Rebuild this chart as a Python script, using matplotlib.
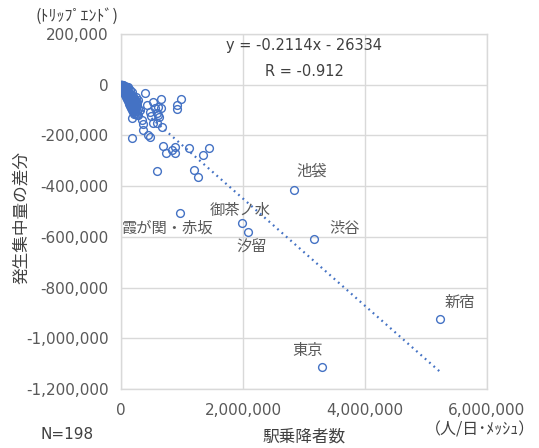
import numpy as np
import matplotlib
matplotlib.use("Agg")
import matplotlib.pyplot as plt
from matplotlib.ticker import FuncFormatter, MultipleLocator

plt.rcParams['font.family'] = ['DejaVu Sans', 'Noto Sans CJK JP']
JP = ['Noto Sans CJK JP', 'DejaVu Sans']

# 駅名付きの点 (単位: 千)
station_names = ['新宿', '東京', '池袋', '渋谷', '御茶ノ水', '汐留', '霞が関・赤坂']
station_x = [5230, 3295, 2836, 3164, 1980, 2080, 967]
station_y = [-923, -1113, -416, -610, -547, -582, -507]
# ラベルのずらし (pt)
label_offsets = [(14, 12), (-10, 12), (13, 14), (22, 8), (-1, 9), (3, -11), (-9, -11)]

# その他の点 (単位: 千)
outer_x = [393, 524, 656, 990, 918, 918, 606, 475, 590, 492, 344, 360, 623, 590,
           672, 360, 443, 180, 180, 475, 279, 311, 557, 656, 606, 524, 688, 738,
           836, 885, 885, 1115, 1344, 1443, 590, 1197, 1262, 245, 420]
outer_y = [-32, -67, -55, -57, -79, -95, -87, -107, -111, -123, -139, -154, -127, -150,
           -166, -178, -198, -131, -210, -206, -119, -99, -92, -92, -119, -152, -241, -269,
           -257, -269, -245, -250, -277, -249, -341, -337, -364, -90, -80]

cluster = [(2, -1), (4, -2), (5, -1), (6, -3), (8, -2), (9, -4), (10, -3), (12, -5), (13, -2),
           (14, -6), (15, -4), (17, -7), (18, -3), (19, -8), (20, -5), (22, -9), (23, -6), (24, -4),
           (25, -10), (27, -7), (28, -12), (29, -5), (30, -9), (32, -14), (33, -8), (34, -11),
           (35, -6), (37, -15), (38, -10), (39, -13), (40, -7), (42, -17), (43, -12), (44, -9),
           (45, -19), (47, -14), (48, -11), (49, -21), (50, -8), (52, -16), (53, -23), (54, -13),
           (56, -10), (57, -19), (58, -25), (60, -15), (61, -12), (62, -22), (64, -27), (65, -17),
           (66, -13), (68, -24), (69, -30), (70, -19), (72, -15), (73, -27), (74, -32), (76, -21),
           (77, -17), (78, -29), (80, -35), (81, -24), (83, -18), (84, -31), (86, -38), (87, -26),
           (88, -20), (90, -34), (92, -41), (93, -28), (95, -23), (96, -37), (98, -44), (100, -30),
           (102, -25), (103, -40), (105, -47), (107, -33), (108, -27), (110, -43), (112, -50),
           (114, -36), (115, -30), (117, -46), (119, -54), (121, -39), (123, -32), (125, -49),
           (127, -57), (129, -42), (131, -35), (133, -52), (135, -61), (137, -45), (139, -38),
           (141, -56), (143, -64), (146, -48), (148, -41), (150, -59), (152, -68), (155, -52),
           (157, -44), (160, -63), (162, -72), (165, -55), (168, -47), (170, -67), (173, -76),
           (176, -59), (179, -50), (182, -71), (185, -80), (188, -63), (191, -54), (195, -75),
           (198, -85), (202, -67), (206, -58), (210, -80), (214, -90), (218, -71), (223, -62),
           (228, -85), (233, -96), (238, -75), (244, -66), (250, -90), (256, -102), (262, -80),
           (270, -70), (278, -95), (286, -60), (210, -105), (190, -95), (170, -88), (150, -78),
           (230, -110), (250, -115), (130, -70), (110, -60), (95, -52), (80, -45), (265, -120),
           (240, -50), (200, -45), (160, -35), (120, -25), (60, -5), (40, -2), (20, 0), (10, 0),
           (1, 0), (60, -30), (70, -40), (85, -50), (100, -58), (115, -65), (130, -75),
           (145, -85), (160, -92), (175, -100), (190, -108), (205, -115), (120, -10), (140, -20),
           (180, -30), (100, -8), (90, -12), (50, -28), (40, -22), (30, -18), (20, -12)]

SLOPE = -0.2114
INTERCEPT = -26334
R_VALUE = -0.912
N = 198

all_x = np.array(station_x + outer_x + [c[0] for c in cluster]) * 1000
all_y = np.array(station_y + outer_y + [c[1] for c in cluster]) * 1000

blue = '#4472C4'
grid_c = '#D9D9D9'
txt_c = '#595959'

fig = plt.figure(figsize=(5.39, 4.48), dpi=100)
ax = fig.add_axes([0.2245, 0.1317, 0.679, 0.7924])

ax.plot(all_x, all_y, 'o', ms=5.6, mfc='none', mec=blue, mew=1.0, zorder=3)

tx = np.array([all_x.min(), all_x.max()])
ax.plot(tx, SLOPE * tx + INTERCEPT, color=blue, lw=1.6, linestyle=(0, (0.8, 1.8)), zorder=4)

ax.set_xlim(0, 6000000)
ax.set_ylim(-1200000, 200000)
ax.xaxis.set_major_locator(MultipleLocator(2000000))
ax.yaxis.set_major_locator(MultipleLocator(200000))
fmt = FuncFormatter(lambda v, p: f"{int(round(v)):,}")
ax.xaxis.set_major_formatter(fmt)
ax.yaxis.set_major_formatter(fmt)
ax.grid(True, color=grid_c, lw=1.0)
ax.set_axisbelow(True)
for s in ax.spines.values():
    s.set_color(grid_c)
    s.set_linewidth(1.0)
ax.tick_params(length=0, labelsize=11, labelcolor=txt_c)
ax.tick_params(axis='y', pad=9)
ax.tick_params(axis='x', pad=10)

for name, x, y, off in zip(station_names, station_x, station_y, label_offsets):
    ax.annotate(name, (x * 1000, y * 1000), xytext=off, textcoords='offset points',
                ha='center', va='center', fontsize=11, color=txt_c, family=JP)

ax.text(0.5, 0.969, f"y = {SLOPE}x - {abs(INTERCEPT)}", transform=ax.transAxes,
        ha='center', va='center', fontsize=10.5, color='#404040')
ax.text(0.5, 0.893, f"R = {R_VALUE}", transform=ax.transAxes,
        ha='center', va='center', fontsize=10.5, color='#404040')

fig.text(22 / 539, 1 - 217 / 448, '発生集中量の差分', rotation=90, ha='center', va='center',
         fontsize=12, color='#404040', family=JP)
fig.text(304 / 539, 1 - 437 / 448, '駅乗降者数', ha='center', va='center',
         fontsize=12, color='#404040', family=JP)
fig.text(67 / 539, 1 - 434 / 448, f'N={N}', ha='center', va='center',
         fontsize=11, color='#404040')
fig.text(480 / 539, 1 - 430 / 448, '（人/日･ﾒｯｼｭ）', ha='center', va='center',
         fontsize=11.5, color='#404040', family=JP)
fig.text(77 / 539, 1 - 16 / 448, '(ﾄﾘｯﾌﾟｴﾝﾄﾞ)', ha='center', va='center',
         fontsize=11.5, color='#404040', family=JP)

fig.savefig('out.png', dpi=100)
